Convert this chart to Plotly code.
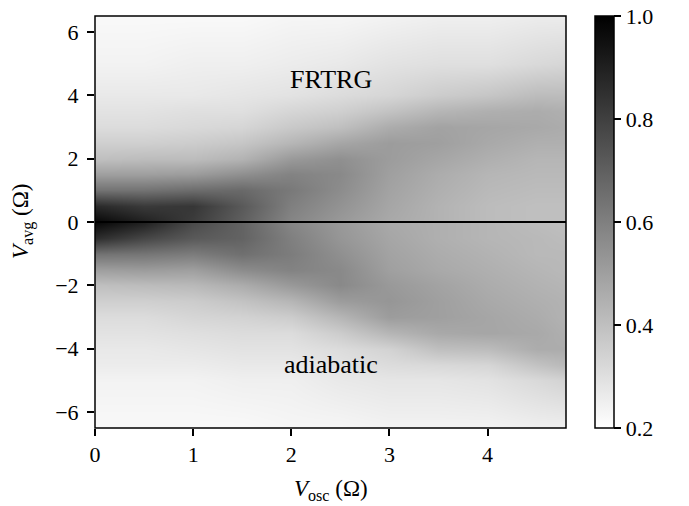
import numpy as np
import plotly.graph_objects as go

# V_osc sample columns (units of Omega)
v_osc = [0, 0.5, 1, 1.5, 2, 2.5, 3, 3.5, 4, 4.5, 4.8]

# Upper half (FRTRG): V_avg samples
v_avg_upper = [0, 0.5, 1, 1.5, 2, 2.5, 3, 3.5, 4, 5, 6.5]
# values along v_avg_upper, one list per V_osc column
g_frtrg = [
    [0.98, 0.87, 0.64, 0.50, 0.40, 0.35, 0.31, 0.29, 0.27, 0.24, 0.22],
    [0.90, 0.82, 0.64, 0.50, 0.41, 0.35, 0.31, 0.29, 0.27, 0.24, 0.22],
    [0.81, 0.83, 0.66, 0.51, 0.41, 0.36, 0.32, 0.30, 0.27, 0.25, 0.22],
    [0.70, 0.72, 0.67, 0.55, 0.44, 0.38, 0.33, 0.30, 0.28, 0.25, 0.22],
    [0.58, 0.60, 0.62, 0.59, 0.52, 0.43, 0.37, 0.33, 0.29, 0.26, 0.23],
    [0.52, 0.54, 0.56, 0.57, 0.55, 0.48, 0.40, 0.35, 0.31, 0.27, 0.23],
    [0.47, 0.48, 0.49, 0.50, 0.51, 0.51, 0.46, 0.39, 0.33, 0.29, 0.24],
    [0.44, 0.44, 0.45, 0.46, 0.48, 0.50, 0.49, 0.43, 0.36, 0.30, 0.25],
    [0.41, 0.41, 0.42, 0.43, 0.45, 0.47, 0.48, 0.45, 0.38, 0.30, 0.25],
    [0.40, 0.40, 0.41, 0.42, 0.43, 0.45, 0.47, 0.46, 0.41, 0.32, 0.26],
    [0.40, 0.40, 0.41, 0.42, 0.43, 0.45, 0.46, 0.45, 0.41, 0.33, 0.26],
]

# Lower half (adiabatic): V_avg samples
v_avg_lower = [-6.5, -5, -4.5, -4, -3.5, -3, -2.5, -2, -1.5, -1, -0.5, 0]
g_adiabatic = [
    [0.22, 0.24, 0.26, 0.27, 0.29, 0.31, 0.35, 0.40, 0.50, 0.64, 0.86, 0.98],
    [0.22, 0.24, 0.26, 0.27, 0.29, 0.31, 0.35, 0.41, 0.51, 0.63, 0.78, 0.90],
    [0.22, 0.24, 0.26, 0.28, 0.30, 0.33, 0.36, 0.42, 0.50, 0.61, 0.72, 0.77],
    [0.22, 0.25, 0.27, 0.29, 0.31, 0.34, 0.39, 0.46, 0.56, 0.65, 0.69, 0.69],
    [0.23, 0.25, 0.27, 0.29, 0.31, 0.36, 0.43, 0.52, 0.59, 0.61, 0.60, 0.58],
    [0.23, 0.27, 0.29, 0.31, 0.36, 0.43, 0.51, 0.57, 0.57, 0.55, 0.53, 0.52],
    [0.24, 0.28, 0.31, 0.34, 0.43, 0.51, 0.53, 0.52, 0.50, 0.49, 0.48, 0.47],
    [0.24, 0.28, 0.32, 0.40, 0.47, 0.50, 0.50, 0.49, 0.47, 0.46, 0.45, 0.45],
    [0.24, 0.29, 0.33, 0.41, 0.48, 0.48, 0.47, 0.46, 0.45, 0.44, 0.43, 0.43],
    [0.25, 0.32, 0.39, 0.46, 0.47, 0.46, 0.45, 0.44, 0.43, 0.42, 0.42, 0.41],
    [0.25, 0.34, 0.42, 0.46, 0.45, 0.44, 0.44, 0.43, 0.42, 0.42, 0.41, 0.40],
]

cbar_ticks = [0.2, 0.4, 0.6, 0.8, 1.0]
cbar_labels = ["0.2", "0.4", "0.6", "0.8", "1.0"]
x_ticks = [0, 1, 2, 3, 4]
y_ticks_lower = [-6, -4, -2, 0]
y_ticks_upper = [2, 4, 6]

FONT = "Liberation Serif"
z_up = np.array(g_frtrg).T
z_lo = np.array(g_adiabatic).T

fig = go.Figure()
fig.add_trace(go.Heatmap(x=v_osc, y=v_avg_lower, z=z_lo, zsmooth="best",
                         coloraxis="coloraxis", xaxis="x", yaxis="y",
                         hoverinfo="skip"))
fig.add_trace(go.Heatmap(x=v_osc, y=v_avg_upper, z=z_up, zsmooth="best",
                         coloraxis="coloraxis", xaxis="x", yaxis="y2",
                         hoverinfo="skip"))

axis_common = dict(ticks="outside", ticklen=7, tickwidth=1.5, tickcolor="black",
                   showline=False, showgrid=False, zeroline=False,
                   tickfont=dict(family=FONT, size=22, color="black"))

# page has an 8px body margin; plot area lands at x 95..566, y 16..428
W, H = 681, 498
ML, MT = 87, 8
PW, PH = 471, 412

fig.update_layout(
    width=W, height=H,
    margin=dict(l=ML, r=W - ML - PW, t=MT, b=H - MT - PH, autoexpand=False),
    paper_bgcolor="white", plot_bgcolor="white",
    font=dict(family=FONT, size=22, color="black"),
    xaxis=dict(domain=[0, 1], range=[0, 4.8], tickvals=x_ticks, anchor="y",
               **axis_common),
    yaxis=dict(domain=[0, 0.5], range=[-6.5, 0], tickvals=y_ticks_lower,
               anchor="x", ticklabelstandoff=4, **axis_common),
    yaxis2=dict(domain=[0.5, 1], range=[0, 6.5], tickvals=y_ticks_upper,
                anchor="x", ticklabelstandoff=4, **axis_common),
    coloraxis=dict(
        cmin=0.2, cmax=1.0,
        colorscale=[[0, "#ffffff"], [1, "#000000"]],
        colorbar=dict(
            x=(595 - 95) / PW, xanchor="left", xpad=0, ypad=0,
            y=0.5, yanchor="middle", len=1, lenmode="fraction",
            thickness=19, outlinewidth=1.5, outlinecolor="black",
            ticks="outside", ticklen=7, tickwidth=1.5, tickcolor="black",
            tickmode="array", tickvals=cbar_ticks, ticktext=cbar_labels,
            ticklabeloverflow="allow",
            tickfont=dict(family=FONT, size=22, color="black"),
        ),
    ),
    shapes=[
        dict(type="rect", xref="paper", yref="paper", x0=0, x1=1, y0=0, y1=1,
             line=dict(color="black", width=1.5), layer="above"),
        dict(type="line", xref="paper", yref="paper", x0=0, x1=1, y0=0.5, y1=0.5,
             line=dict(color="black", width=2), layer="above"),
    ],
    annotations=[
        dict(text="FRTRG", xref="x", yref="y2", x=2.4, y=4.5, showarrow=False,
             font=dict(family=FONT, size=26, color="black")),
        dict(text="adiabatic", xref="x", yref="y", x=2.4, y=-4.5, showarrow=False,
             font=dict(family=FONT, size=26, color="black")),
        dict(text="<i>V</i><sub>osc</sub> (Ω)", xref="paper", yref="paper",
             x=0.5, y=(428 - 490) / PH, xanchor="center", yanchor="middle",
             showarrow=False, font=dict(family=FONT, size=23, color="black")),
        dict(text="<i>V</i><sub>avg</sub> (Ω)", xref="paper", yref="paper",
             x=(22 - 95) / PW, y=0.5, xanchor="center", yanchor="middle",
             textangle=-90, showarrow=False,
             font=dict(family=FONT, size=23, color="black")),
    ],
)

fig.write_html("out.html")
